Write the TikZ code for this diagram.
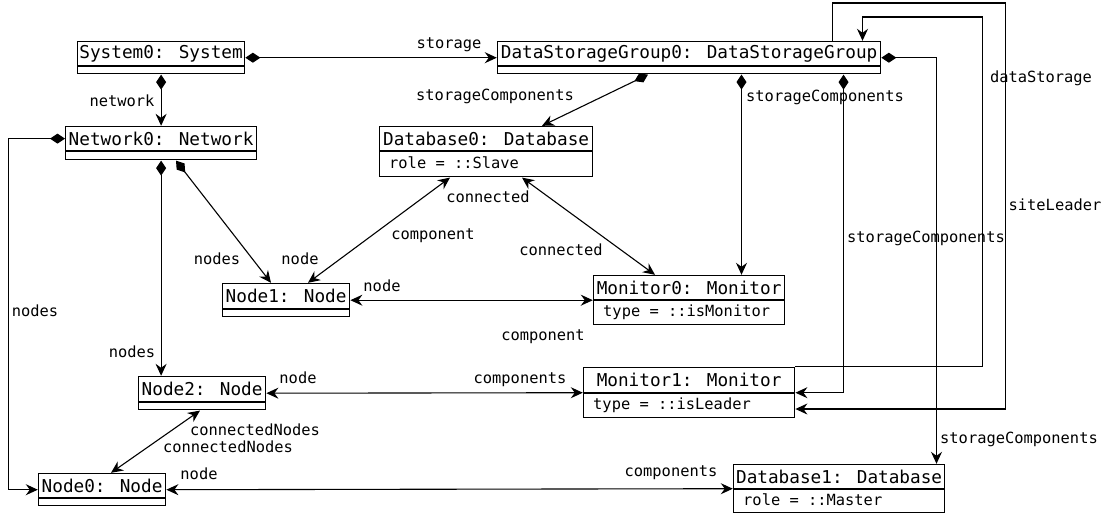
\documentclass[tikz,border=0pt]{standalone}
\usepackage{fontspec}
\newfontfamily\dvm{DejaVu Sans Mono}
\usetikzlibrary{arrows.meta,fit}
\tikzset{
  ttl/.style={draw, line width=1.2pt, inner sep=0pt, anchor=north west, font=\dvm\fontsize{17.7}{20}\selectfont},
  bdy/.style={draw, line width=1.2pt, inner sep=0pt, anchor=north west, minimum height=7pt},
  attrtxt/.style={anchor=west, inner sep=0pt, font=\dvm\fontsize{15.4}{18}\selectfont, text height=11pt, text depth=3pt},
  obj/.style={inner sep=0pt},
  lbl/.style={font=\dvm\fontsize{15.4}{18}\selectfont, inner sep=0pt, text height=11pt, text depth=3pt},
  conn/.style={line width=1.1pt},
  comp/.style={conn, {Diamond[length=15pt,width=10pt]}-{Stealth[length=12pt,width=11pt,inset=4pt]}},
  nav/.style={conn, -{Stealth[length=12pt,width=11pt,inset=4pt]}},
  bidir/.style={conn, {Stealth[length=12pt,width=11pt,inset=4pt]}-{Stealth[length=12pt,width=11pt,inset=4pt]}},
}
\begin{document}
\begin{tikzpicture}[x=1pt,y=-1pt]
\useasboundingbox (0,0) rectangle (1107,515);
% objects
\node[ttl, minimum width=167pt, minimum height=24pt] (sys) at (77,41) {System0: System};
\node[bdy, minimum width=167pt] (sysb) at (sys.south west) {};
\node[obj, fit=(sys)(sysb)] (System0) {};

\node[ttl, minimum width=383pt, minimum height=24pt] (dsg) at (497,41) {DataStorageGroup0: DataStorageGroup};
\node[bdy, minimum width=383pt] (dsgb) at (dsg.south west) {};
\node[obj, fit=(dsg)(dsgb)] (DSG0) {};

\node[ttl, minimum width=191pt, minimum height=24pt] (net) at (65,126) {Network0: Network};
\node[bdy, minimum width=191pt, minimum height=8pt] (netb) at (net.south west) {};
\node[obj, fit=(net)(netb)] (Network0) {};

\node[ttl, minimum width=213pt, minimum height=24pt] (db0) at (379,126) {Database0: Database};
\node[bdy, minimum width=213pt, minimum height=25pt] (db0b) at (db0.south west) {};
\node[attrtxt] (db0a) at ([xshift=10pt]db0b.west) {role = ::Slave};
\node[obj, fit=(db0)(db0b)] (Database0) {};

\node[ttl, minimum width=127pt, minimum height=25pt] (nd1) at (222,283) {Node1: Node};
\node[bdy, minimum width=127pt] (nd1b) at (nd1.south west) {};
\node[obj, fit=(nd1)(nd1b)] (Node1) {};

\node[ttl, minimum width=191pt, minimum height=24pt] (mon0) at (593,275) {Monitor0: Monitor};
\node[bdy, minimum width=191pt, minimum height=24pt] (mon0b) at (mon0.south west) {};
\node[attrtxt] (mon0a) at ([xshift=10pt]mon0b.west) {type = ::isMonitor};
\node[obj, fit=(mon0)(mon0b)] (Monitor0) {};

\node[ttl, minimum width=127pt, minimum height=25pt] (nd2) at (138,376) {Node2: Node};
\node[bdy, minimum width=127pt] (nd2b) at (nd2.south west) {};
\node[obj, fit=(nd2)(nd2b)] (Node2) {};

\node[ttl, minimum width=211pt, minimum height=25pt] (mon1) at (583,367) {Monitor1: Monitor};
\node[bdy, minimum width=211pt, minimum height=24pt] (mon1b) at (mon1.south west) {};
\node[attrtxt] (mon1a) at ([xshift=10pt]mon1b.west) {type = ::isLeader};
\node[obj, fit=(mon1)(mon1b)] (Monitor1) {};

\node[ttl, minimum width=127pt, minimum height=24pt] (nd0) at (38,473) {Node0: Node};
\node[bdy, minimum width=127pt] (nd0b) at (nd0.south west) {};
\node[obj, fit=(nd0)(nd0b)] (Node0) {};

\node[ttl, minimum width=211pt, minimum height=24pt] (db1) at (733,464) {Database1: Database};
\node[bdy, minimum width=211pt, minimum height=23pt] (db1b) at (db1.south west) {};
\node[attrtxt] (db1a) at ([xshift=10pt]db1b.west) {role = ::Master};
\node[obj, fit=(db1)(db1b)] (Database1) {};

% connectors
\draw[comp] (System0.east) -- (DSG0.west);
\draw[comp] (System0.south) -- (Network0.north);
\draw[comp] (DSG0.south -| 648,0) -- (Database0.north -| 542,0);
\draw[comp] (DSG0.south -| 741.5,0) -- (Monitor0.north -| 741.5,0);
\draw[comp] (DSG0.south -| 843.5,0) |- (Monitor1.east);
\draw[comp] (DSG0.east) -| (Database1.north -| 936.5,0);
\draw[nav] (Monitor1.north east) -| (982.5,17) -| (DSG0.north -| 862.5,0);
\draw[nav] (DSG0.north -| 832.5,0) |- (1005.5,3) |- (Monitor1.east |- 0,409);
\draw[comp] (net.west) -| (8.5,300) |- (Node0.west);
\draw[comp] (Network0.south) -- (Network0.south |- Node2.north);
\draw[comp] (Network0.south -| 176,0) -- (Node1.north -| 271,0);
\draw[bidir] (Database0.south -| 450,0) -- (Node1.north -| 308,0);
\draw[bidir] (Database0.south -| 522,0) -- (Monitor0.north -| 655,0);
\draw[bidir] (Node1.east) -- (Monitor0.west);
\draw[bidir] (Node2.east) -- (Monitor1.west);
\draw[bidir] (Node2.south -| 200,0) -- (Node0.north -| 111,0);
\draw[bidir] (Node0.east) -- (Database1.west);

% labels
\node[lbl] (lstorage) at (449,44) {storage};
\node[lbl] (lnetwork) at (122,102) {network};
\node[lbl] (lsc1) at (495,96) {storageComponents};
\node[lbl] (lsc2) at (825,97) {storageComponents};
\node[lbl] (ldata) at (1041,78) {dataStorage};
\node[lbl] (lsite) at (1055,206) {siteLeader};
\node[lbl] (lsc3) at (926,238) {storageComponents};
\node[lbl] (lnodes1) at (217,260) {nodes};
\node[lbl] (lnode1) at (300,260) {node};
\node[lbl] (lcomponent1) at (433,235) {component};
\node[lbl] (lconnected1) at (488,198) {connected};
\node[lbl] (lconnected2) at (561,251) {connected};
\node[lbl] (lnode2) at (382,287) {node};
\node[lbl] (lcomponent2) at (543,336) {component};
\node[lbl] (lnodes0) at (35,312) {nodes};
\node[lbl] (lnodes2) at (132,353) {nodes};
\node[lbl] (lnode3) at (298,379) {node};
\node[lbl] (lcomps1) at (520,379) {components};
\node[lbl] (lcn1) at (255,431) {connectedNodes};
\node[lbl] (lcn2) at (228,448) {connectedNodes};
\node[lbl] (lnode4) at (199,475) {node};
\node[lbl] (lcomps2) at (671,472) {components};
\node[lbl] (lsc4) at (1019,439) {storageComponents};
\end{tikzpicture}
\end{document}
